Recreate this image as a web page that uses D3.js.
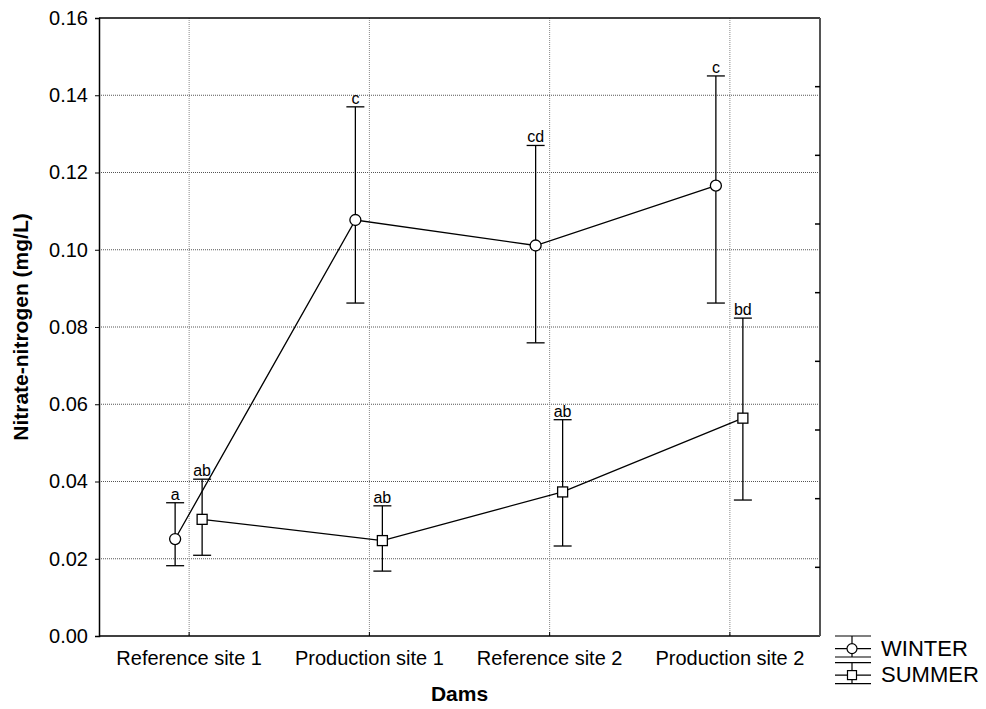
<!DOCTYPE html>
<html>
<head>
<meta charset="utf-8">
<script src="https://cdn.jsdelivr.net/npm/d3@7"></script>
<style>
  body { margin: 0; background: #fff; }
  text { font-family: "Liberation Sans", Arial, sans-serif; fill: #000; }
</style>
</head>
<body>
<div id="chart"></div>
<script>
const categories = ["Reference site 1", "Production site 1", "Reference site 2", "Production site 2"];
const yTicks = [0, 0.02, 0.04, 0.06, 0.08, 0.10, 0.12, 0.14, 0.16];

const winterMean = [0.0251, 0.1077, 0.1011, 0.1166];
const winterHigh = [0.0345, 0.1370, 0.1270, 0.1450];
const winterLow  = [0.0182, 0.0862, 0.0759, 0.0862];
const winterLetters = ["a", "c", "cd", "c"];

const summerMean = [0.0302, 0.0247, 0.0373, 0.0564];
const summerHigh = [0.0406, 0.0337, 0.0560, 0.0823];
const summerLow  = [0.0209, 0.0168, 0.0233, 0.0352];
const summerLetters = ["ab", "ab", "ab", "bd"];

const series = [
  { name: "WINTER", mean: winterMean, high: winterHigh, low: winterLow, letters: winterLetters, shape: "circle", dx: -14 },
  { name: "SUMMER", mean: summerMean, high: summerHigh, low: summerLow, letters: summerLetters, shape: "square", dx: 13 }
];

const W = 986, H = 709;
const margin = { top: 18, right: 166, bottom: 73, left: 99 };
const width = W - margin.left - margin.right;
const height = H - margin.top - margin.bottom;

const root = d3.select("#chart").append("svg").attr("width", W).attr("height", H);
const svg = root.append("g").attr("transform", `translate(${margin.left},${margin.top})`);

const x = d3.scaleBand().domain(categories).range([0, width]);
const y = d3.scaleLinear().domain([0, 0.16]).range([height, 0]);
const cx = c => x(c) + x.bandwidth() / 2;

// grid
svg.selectAll(".hgrid")
  .data(yTicks.slice(1, -1))
  .enter().append("line")
  .attr("x1", 0).attr("x2", width)
  .attr("y1", d => y(d)).attr("y2", d => y(d))
  .attr("stroke", "#555").attr("stroke-dasharray", "1,1");

svg.selectAll(".vgrid")
  .data(categories)
  .enter().append("line")
  .attr("x1", cx).attr("x2", cx)
  .attr("y1", 0).attr("y2", height)
  .attr("stroke", "#888").attr("stroke-dasharray", "1,1");

// axes
const yAxis = svg.append("g")
  .call(d3.axisLeft(y).tickValues(yTicks).tickFormat(d3.format(".2f")).tickSize(4).tickPadding(7));
yAxis.select(".domain").attr("stroke-width", 1.5);
yAxis.selectAll("text").style("font-size", "20px");

const xAxis = svg.append("g")
  .attr("transform", `translate(0,${height})`)
  .call(d3.axisBottom(x).tickSize(-4).tickPadding(15));
xAxis.select(".domain").remove();
xAxis.selectAll("text").style("font-size", "20px");

svg.append("line").attr("x1", 0).attr("x2", width).attr("y1", height).attr("y2", height)
  .attr("stroke", "#000").attr("stroke-width", 1.5);
svg.append("line").attr("x1", 0).attr("x2", width).attr("y1", 0).attr("y2", 0)
  .attr("stroke", "#000").attr("stroke-width", 1.5);
svg.append("line").attr("x1", width).attr("x2", width).attr("y1", 0).attr("y2", height)
  .attr("stroke", "#555").attr("stroke-width", 2);

// right-side inner ticks
svg.selectAll(".rtick")
  .data(d3.range(1, 9))
  .enter().append("line")
  .attr("x1", width - 5).attr("x2", width)
  .attr("y1", d => height - d * height / 9).attr("y2", d => height - d * height / 9)
  .attr("stroke", "#000").attr("stroke-width", 1.5);

// titles
svg.append("text")
  .attr("transform", `translate(${-71},${height / 2}) rotate(-90)`)
  .attr("text-anchor", "middle")
  .style("font-size", "21px").style("font-weight", "bold")
  .text("Nitrate-nitrogen (mg/L)");

svg.append("text")
  .attr("x", width / 2).attr("y", height + 65)
  .attr("text-anchor", "middle")
  .style("font-size", "21px").style("font-weight", "bold")
  .text("Dams");

const line = d3.line();

series.forEach(s => {
  const pts = categories.map((c, i) => ({ px: cx(c) + s.dx, i }));

  svg.append("path")
    .attr("d", line(pts.map(p => [p.px, y(s.mean[p.i])])))
    .attr("fill", "none").attr("stroke", "#000").attr("stroke-width", 1.3);

  const g = svg.selectAll(".pt-" + s.shape)
    .data(pts)
    .enter().append("g");

  g.append("line")
    .attr("x1", p => p.px).attr("x2", p => p.px)
    .attr("y1", p => y(s.high[p.i])).attr("y2", p => y(s.low[p.i]))
    .attr("stroke", "#000").attr("stroke-width", 1.3);
  g.append("line")
    .attr("x1", p => p.px - 9).attr("x2", p => p.px + 9)
    .attr("y1", p => y(s.high[p.i])).attr("y2", p => y(s.high[p.i]))
    .attr("stroke", "#000").attr("stroke-width", 1.3);
  g.append("line")
    .attr("x1", p => p.px - 9).attr("x2", p => p.px + 9)
    .attr("y1", p => y(s.low[p.i])).attr("y2", p => y(s.low[p.i]))
    .attr("stroke", "#000").attr("stroke-width", 1.3);

  if (s.shape === "circle") {
    g.append("circle")
      .attr("cx", p => p.px).attr("cy", p => y(s.mean[p.i])).attr("r", 5.5)
      .attr("fill", "#fff").attr("stroke", "#000").attr("stroke-width", 1.3);
  } else {
    g.append("rect")
      .attr("x", p => p.px - 5).attr("y", p => y(s.mean[p.i]) - 5)
      .attr("width", 10).attr("height", 10)
      .attr("fill", "#fff").attr("stroke", "#000").attr("stroke-width", 1.3);
  }

  g.append("text")
    .attr("x", p => p.px).attr("y", p => y(s.high[p.i]) - 3)
    .attr("text-anchor", "middle")
    .style("font-size", "16px")
    .text(p => s.letters[p.i]);
});

// legend
const legend = root.append("g").attr("transform", "translate(835,636)");
series.forEach((s, k) => {
  const g = legend.append("g").attr("transform", `translate(0,${k * 26.6})`);
  [0, 12.6, 21].forEach(yy => {
    g.append("line").attr("x1", 0).attr("x2", 36).attr("y1", yy).attr("y2", yy)
      .attr("stroke", "#000").attr("stroke-width", 1.2);
  });
  g.append("line").attr("x1", 17).attr("x2", 17).attr("y1", 0).attr("y2", 21)
    .attr("stroke", "#000").attr("stroke-width", 1.2);
  if (s.shape === "circle") {
    g.append("circle").attr("cx", 17).attr("cy", 12.6).attr("r", 5)
      .attr("fill", "#fff").attr("stroke", "#000").attr("stroke-width", 1.2);
  } else {
    g.append("rect").attr("x", 12.5).attr("y", 8).attr("width", 9).attr("height", 9)
      .attr("fill", "#fff").attr("stroke", "#000").attr("stroke-width", 1.2);
  }
  g.append("text").attr("x", 46).attr("y", 19.5)
    .style("font-size", "22px").text(s.name);
});
</script>
</body>
</html>
